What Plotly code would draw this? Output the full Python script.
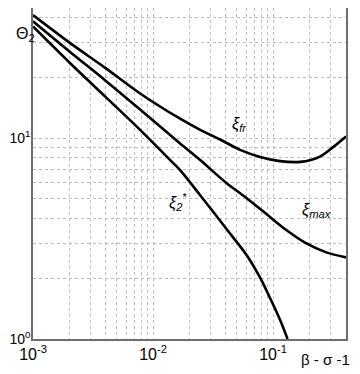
import numpy as np
import plotly.graph_objects as go

# Curve data (x = beta - sigma - 1, y = Theta_2)
x_fr = [0.001, 0.002, 0.004, 0.0078, 0.0168, 0.0247, 0.0362, 0.0531, 0.078, 0.114, 0.168, 0.246, 0.318, 0.405]
y_fr = [41.0, 30.0, 22.4, 16.7, 12.5, 11.0, 9.85, 8.75, 8.07, 7.69, 7.62, 8.1, 9.05, 10.2]

x_max = [0.001, 0.002, 0.004, 0.0078, 0.0168, 0.0247, 0.0406, 0.0596, 0.0875, 0.128, 0.188, 0.277, 0.405]
y_max = [38.2, 27.1, 19.4, 13.9, 9.42, 7.78, 6.0, 5.05, 4.2, 3.5, 3.0, 2.7, 2.55]

x_st = [0.001, 0.002, 0.004, 0.0078, 0.0139, 0.0168, 0.0247, 0.0406, 0.0607, 0.078, 0.089, 0.114, 0.132]
y_st = [36.0, 23.9, 16.1, 11.0, 7.78, 6.93, 5.2, 3.55, 2.6, 2.02, 1.72, 1.25, 1.0]

x_ticks = [1e-3, 1e-2, 1e-1]
x_ticktext = ["10<sup>-3</sup>", "10<sup>-2</sup>", "10<sup>-1</sup>"]
y_ticks = [1, 10]
y_ticktext = ["10<sup>0</sup>", "10<sup>1</sup>"]

def grid_vals(lo_dec, hi_dec):
    vals = []
    for d in range(lo_dec, hi_dec + 1):
        for m in range(1, 10):
            vals.append(m * 10.0 ** d)
    return vals

xgrid = [v for v in grid_vals(-3, -1) if v <= 0.41]
ygrid = [v for v in grid_vals(0, 1) if v <= 45]

def labels(grid, ticks, texts):
    out = []
    for v in grid:
        t = ""
        for tv, tt in zip(ticks, texts):
            if abs(v - tv) / tv < 1e-9:
                t = tt
        out.append(t)
    return out

fig = go.Figure()
for xs, ys in [(x_fr, y_fr), (x_max, y_max), (x_st, y_st)]:
    fig.add_trace(go.Scatter(x=xs, y=ys, mode="lines",
                             line=dict(color="black", width=2.6, shape="spline", smoothing=0.9),
                             showlegend=False, hoverinfo="skip"))

font = dict(family="Liberation Sans", color="black")

axis_common = dict(type="log", showgrid=True, gridcolor="#bdbdbd", griddash="dot", gridwidth=1,
                   showline=True, linecolor="#6e6e6e", linewidth=1.5, mirror=True,
                   ticks="", zeroline=False, automargin=False)
fig.update_xaxes(range=[-3, np.log10(0.405)], tickvals=xgrid, tickfont=dict(size=16, **font),
                 ticktext=labels(xgrid, x_ticks, x_ticktext), **axis_common)
fig.update_yaxes(range=[0, np.log10(44.5)], tickvals=ygrid, tickfont=dict(size=14, **font),
                 ticklabelstandoff=-2,
                 ticktext=labels(ygrid, y_ticks, y_ticktext), **axis_common)

ann_font = dict(size=16, **font)
fig.add_annotation(x=-1.28, y=1.07, text="<i>ξ<sub>fr</sub></i>", showarrow=False, font=ann_font)
fig.add_annotation(x=-0.64, y=0.64, text="<i>ξ<sub>max</sub></i>", showarrow=False, font=ann_font)
fig.add_annotation(x=-1.79, y=0.68, text="<i>ξ<sub>2</sub></i><sup>*</sup>", showarrow=False, font=ann_font)
fig.add_annotation(xref="paper", yref="paper", x=-0.06, y=0.955, text="Θ<sub>2</sub>",
                   showarrow=False, font=dict(size=16, **font))
fig.add_annotation(xref="paper", yref="paper", x=1.02, y=-0.063, text="β - σ -1",
                   showarrow=False, font=dict(size=15, **font), xanchor="right", yanchor="middle")

# page body has an 8px margin: shrink the figure so the plot lands where the reference has it
fig.update_layout(template="none", width=352, height=366, margin=dict(l=25, r=14, t=0, b=35),
                  plot_bgcolor="white", paper_bgcolor="white", showlegend=False)

fig.write_html("out.html")
